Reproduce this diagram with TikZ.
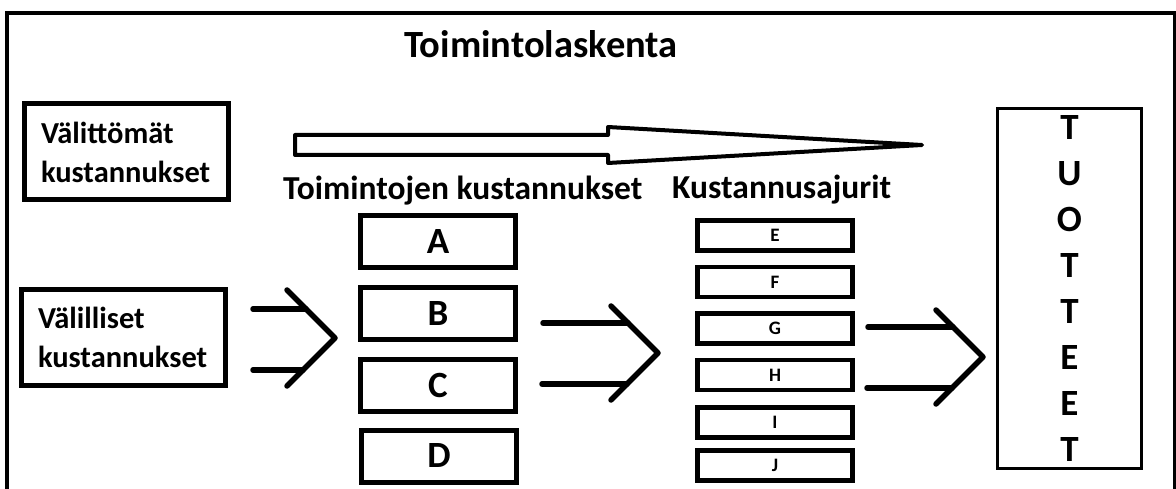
\documentclass[tikz,border=0pt]{standalone}
\usepackage{fontspec}
\setmainfont{Carlito}

\begin{document}
\begin{tikzpicture}[x=1pt,y=-1pt,
  costbox/.style={draw, line width=5pt, minimum width=201pt, minimum height=96pt, text width=170pt, align=left, font=\bfseries\fontsize{30.5}{39}\selectfont},
  actbox/.style={draw, line width=5pt, minimum width=155pt, minimum height=52pt, inner sep=0pt, font=\bfseries\fontsize{37}{40}\selectfont},
  drvbox/.style={draw, line width=4.5pt, minimum width=155pt, minimum height=30pt, inner sep=0pt, font=\bfseries\fontsize{19}{20}\selectfont},
  heading/.style={anchor=base west, inner sep=0pt, font=\bfseries\fontsize{33.5}{39}\selectfont},
  flow/.style={line width=5.5pt, line cap=round, line join=round}]
    \useasboundingbox (0,0) rectangle (1176,489);
    \draw[line width=4pt] (7,500) -- (7,13) -- (1175,13) -- (1175,500);

    \node[anchor=base, inner sep=0pt, font=\bfseries\fontsize{38.5}{40}\selectfont] (title) at (541,58) {Toimintolaskenta};

    \node[costbox, inner xsep=17pt] (direct) at (126,152) {Välittömät\\kustannukset};
    \node[costbox, inner xsep=17pt] (indirect) at (123,337.5) {Välilliset\\kustannukset};

    \node[heading] (acts) at (283,200) {Toimintojen kustannukset};
    \node[heading] (drivers) at (672,199) {Kustannusajurit};

    \node[actbox] (A) at (438,241.5) {A};
    \node[actbox] (B) at (438,313.5) {B};
    \node[actbox] (C) at (438,385) {C};
    \node[actbox] (D) at (439,456) {D};

    \node[drvbox] (E) at (775,235.5) {E};
    \node[drvbox] (F) at (775,282) {F};
    \node[drvbox] (G) at (775,328.5) {G};
    \node[drvbox] (H) at (775,375) {H};
    \node[drvbox] (I) at (775,422.5) {I};
    \node[drvbox] (J) at (775,465.5) {J};

    \node[draw, line width=3pt, minimum width=144pt, minimum height=360pt, align=center, font=\bfseries\fontsize{37}{46}\selectfont] (products) at (1069.5,288.5) {T\\U\\O\\T\\T\\E\\E\\T};

    \draw[line width=4pt, line join=round] (295,135) -- (608,135) -- (608,127) -- (922,145) -- (608,163) -- (608,155) -- (295,155) -- cycle;

    \coordinate (in1) at (335,338);
    \coordinate (in2) at (658,353);
    \coordinate (in3) at (983,357);
    \coordinate (a1) at (253,309);
    \coordinate (b1) at (253,370);
    \coordinate (a2) at (543,323);
    \coordinate (b2) at (542,384);
    \coordinate (a3) at (868,327);
    \coordinate (b3) at (867,388);

    \draw[flow] (a1) -- ++(53,0);
    \draw[flow] (b1) -- ++(50,0);
    \draw[flow] (in1) ++(-48,-48) -- (in1) -- ++(-48,48);

    \draw[flow] (a2) -- ++(85,0);
    \draw[flow] (b2) -- ++(85,0);
    \draw[flow] (in2) ++(-47,-47) -- (in2) -- ++(-47,47);

    \draw[flow] (a3) -- ++(85,0);
    \draw[flow] (b3) -- ++(85,0);
    \draw[flow] (in3) ++(-47,-47) -- (in3) -- ++(-47,47);
\end{tikzpicture}
\end{document}
